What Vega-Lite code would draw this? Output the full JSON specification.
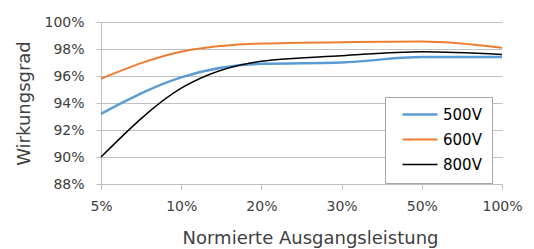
{
  "$schema": "https://vega.github.io/schema/vega-lite/v6.json",
  "width": 401,
  "height": 162,
  "autosize": "none",
  "padding": {"left": 101, "top": 22, "right": 32, "bottom": 65},
  "config": {"view": {"stroke": null}, "font": "DejaVu Sans"},
  "data": {
    "values": [
      {"last": "5%", "series": "500V", "eff": 0.932},
      {"last": "10%", "series": "500V", "eff": 0.959},
      {"last": "20%", "series": "500V", "eff": 0.969},
      {"last": "30%", "series": "500V", "eff": 0.970},
      {"last": "50%", "series": "500V", "eff": 0.974},
      {"last": "100%", "series": "500V", "eff": 0.974},
      {"last": "5%", "series": "600V", "eff": 0.958},
      {"last": "10%", "series": "600V", "eff": 0.978},
      {"last": "20%", "series": "600V", "eff": 0.984},
      {"last": "30%", "series": "600V", "eff": 0.985},
      {"last": "50%", "series": "600V", "eff": 0.9855},
      {"last": "100%", "series": "600V", "eff": 0.981},
      {"last": "5%", "series": "800V", "eff": 0.900},
      {"last": "10%", "series": "800V", "eff": 0.951},
      {"last": "20%", "series": "800V", "eff": 0.971},
      {"last": "30%", "series": "800V", "eff": 0.975},
      {"last": "50%", "series": "800V", "eff": 0.978},
      {"last": "100%", "series": "800V", "eff": 0.976}
    ]
  },
  "mark": {"type": "line", "interpolate": "monotone"},
  "encoding": {
    "x": {
      "field": "last",
      "type": "ordinal",
      "sort": ["5%", "10%", "20%", "30%", "50%", "100%"],
      "scale": {"type": "point", "padding": 0},
      "axis": {
        "labelAngle": 0,
        "grid": false,
        "domainColor": "#BFBFBF",
        "tickColor": "#BFBFBF",
        "tickSize": 5,
        "labelPadding": 10,
        "labelFontSize": 14,
        "labelColor": "#404040",
        "title": "Normierte Ausgangsleistung",
        "titleFontWeight": "normal",
        "titleFontSize": 18,
        "titleColor": "#404040",
        "titlePadding": 16,
        "titleX": 209
      }
    },
    "y": {
      "field": "eff",
      "type": "quantitative",
      "scale": {"domain": [0.88, 1.0]},
      "axis": {
        "values": [0.88, 0.90, 0.92, 0.94, 0.96, 0.98, 1.0],
        "format": ".0%",
        "gridColor": "#BFBFBF",
        "domainColor": "#BFBFBF",
        "tickColor": "#BFBFBF",
        "tickSize": 5,
        "labelPadding": 12,
        "labelFontSize": 14,
        "labelColor": "#404040",
        "title": "Wirkungsgrad",
        "titleFontWeight": "normal",
        "titleFontSize": 18,
        "titleColor": "#404040",
        "titlePadding": 10
      }
    },
    "color": {
      "field": "series",
      "type": "nominal",
      "scale": {"domain": ["500V", "600V", "800V"], "range": ["#5B9BD5", "#ED7D31", "#000000"]},
      "legend": {
        "orient": "none",
        "legendX": 284,
        "legendY": 75,
        "title": null,
        "strokeColor": "#A6A6A6",
        "fillColor": "#FFFFFF",
        "padding": 10,
        "symbolType": "M0,0H7",
        "symbolSize": 100,
        "symbolStrokeWidth": 2,
        "labelOffset": 33,
        "labelFontSize": 15,
        "labelColor": "#000000",
        "rowPadding": 9
      }
    },
    "strokeWidth": {
      "field": "series",
      "type": "nominal",
      "scale": {"domain": ["500V", "600V", "800V"], "range": [2.5, 1.5, 1.5]},
      "legend": null
    }
  }
}
